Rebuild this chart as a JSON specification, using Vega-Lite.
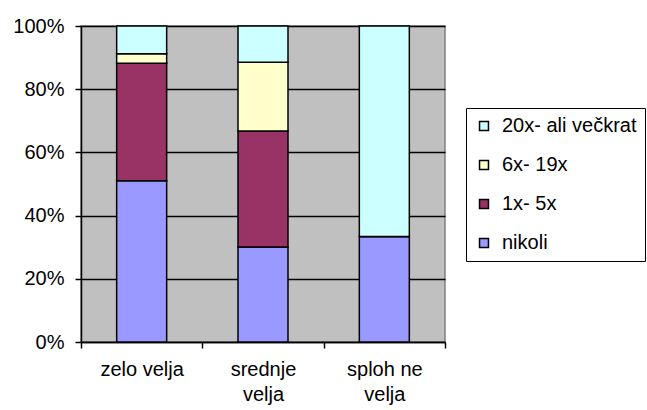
{
  "$schema": "https://vega.github.io/schema/vega-lite/v6.json",
  "width": 364,
  "height": 316,
  "autosize": {"type": "none"},
  "padding": {"left": 81, "top": 26, "right": 202, "bottom": 68},
  "background": "white",
  "config": {
    "font": "Liberation Sans",
    "view": {"fill": "#C0C0C0", "stroke": "#808080", "strokeWidth": 1.5},
    "axis": {"labelFont": "Liberation Sans", "labelColor": "black", "labelFontSize": 20, "domainColor": "black", "domainWidth": 1.5, "tickColor": "black", "tickWidth": 1.5, "tickSize": 6}
  },
  "data": {
    "values": [
      {"cat": "zelo velja", "series": "nikoli", "ord": 1, "value": 51.0},
      {"cat": "zelo velja", "series": "1x- 5x", "ord": 2, "value": 37.2},
      {"cat": "zelo velja", "series": "6x- 19x", "ord": 3, "value": 3.0},
      {"cat": "zelo velja", "series": "20x- ali večkrat", "ord": 4, "value": 8.8},
      {"cat": "srednje velja", "series": "nikoli", "ord": 1, "value": 30.1},
      {"cat": "srednje velja", "series": "1x- 5x", "ord": 2, "value": 36.7},
      {"cat": "srednje velja", "series": "6x- 19x", "ord": 3, "value": 21.7},
      {"cat": "srednje velja", "series": "20x- ali večkrat", "ord": 4, "value": 11.5},
      {"cat": "sploh ne velja", "series": "nikoli", "ord": 1, "value": 33.4},
      {"cat": "sploh ne velja", "series": "1x- 5x", "ord": 2, "value": 0},
      {"cat": "sploh ne velja", "series": "6x- 19x", "ord": 3, "value": 0},
      {"cat": "sploh ne velja", "series": "20x- ali večkrat", "ord": 4, "value": 66.6}
    ]
  },
  "mark": {"type": "bar", "width": 50, "stroke": "black", "strokeWidth": 1.5},
  "encoding": {
    "x": {
      "field": "cat",
      "type": "nominal",
      "sort": ["zelo velja", "srednje velja", "sploh ne velja"],
      "scale": {"paddingInner": 0, "paddingOuter": 0},
      "axis": {
        "title": null,
        "labelAngle": 0,
        "tickBand": "extent",
        "labelPadding": 11,
        "labelLineHeight": 25,
        "labelExpr": "datum.label == 'zelo velja' ? datum.label : [substring(datum.label, 0, lastindexof(datum.label, ' ')), substring(datum.label, lastindexof(datum.label, ' ') + 1)]"
      }
    },
    "y": {
      "field": "value",
      "type": "quantitative",
      "stack": "normalize",
      "scale": {"domain": [0, 1], "nice": false},
      "axis": {
        "title": null,
        "format": "%",
        "values": [0, 0.2, 0.4, 0.6, 0.8, 1],
        "grid": true,
        "gridColor": "black",
        "gridWidth": 1.5,
        "gridOpacity": 1,
        "labelPadding": 11
      }
    },
    "color": {
      "field": "series",
      "type": "nominal",
      "scale": {
        "domain": ["20x- ali večkrat", "6x- 19x", "1x- 5x", "nikoli"],
        "range": ["#CCFFFF", "#FFFFCC", "#993366", "#9999FF"]
      },
      "legend": {
        "title": null,
        "orient": "none",
        "legendX": 385,
        "legendY": 82,
        "strokeColor": "black",
        "fillColor": "white",
        "padding": 8,
        "symbolType": "square",
        "symbolSize": 80,
        "symbolStrokeColor": "black",
        "symbolStrokeWidth": 1.5,
        "symbolOpacity": 1,
        "labelFont": "Liberation Sans",
        "labelFontSize": 20,
        "labelColor": "black",
        "labelOffset": 8,
        "rowPadding": 19
      }
    },
    "order": {"field": "ord", "type": "quantitative"}
  }
}
